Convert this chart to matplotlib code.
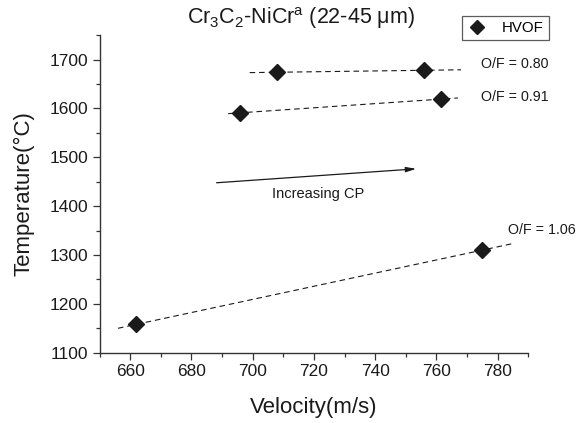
import matplotlib
matplotlib.use("Agg")
import matplotlib.pyplot as plt
import numpy as np
from matplotlib.ticker import MultipleLocator

plt.rcParams["font.family"] = ["Liberation Sans", "DejaVu Sans"]
plt.rcParams["mathtext.fontset"] = "custom"
plt.rcParams["mathtext.rm"] = "Liberation Sans"
plt.rcParams["mathtext.it"] = "Liberation Sans:italic"

# O/F ratio groups: velocity (m/s) and particle temperature (C)
labels = ["O/F = 0.80", "O/F = 0.91", "O/F = 1.06"]
vel_080 = [708, 756]
temp_080 = [1674, 1678]
vel_091 = [696, 761.5]
temp_091 = [1591, 1619]
vel_106 = [662, 775]
temp_106 = [1158, 1310]

# x extent of each dashed trend line
fit_080 = [699, 768]
fit_091 = [692, 767]
fit_106 = [656, 785]

# label anchor positions (data units)
label_x = [774.5, 774.5, 783.5]
label_y = [1690, 1623, 1352]

groups = [(vel_080, temp_080, fit_080),
          (vel_091, temp_091, fit_091),
          (vel_106, temp_106, fit_106)]

ink = "#1a1a1a"

fig = plt.figure(figsize=(5.79, 4.23), dpi=100)
ax = fig.add_axes([0.172, 0.1662, 0.7405, 0.7508])

for i, (vx, ty, ext) in enumerate(groups):
    slope, icpt = np.polyfit(vx, ty, 1)
    ex = np.array(ext, dtype=float)
    ax.plot(ex, slope * ex + icpt, color=ink, lw=0.8, dashes=(5, 3.5), zorder=2)
    ax.plot(vx, ty, "D", color=ink, markersize=8.5, zorder=3,
            label="HVOF" if i == 0 else None)
    ax.text(label_x[i], label_y[i], labels[i], fontsize=10.3, color=ink,
            ha="left", va="center")

# Increasing CP arrow
ax.annotate("", xy=(753.4, 1476.3), xytext=(688.2, 1447.8),
            arrowprops=dict(arrowstyle="-|>,head_length=0.6,head_width=0.15",
                            color=ink, lw=0.9, shrinkA=0, shrinkB=0))
ax.text(721.5, 1425, "Increasing CP", fontsize=10.5, color=ink,
        ha="center", va="center")

ax.set_xlim(650, 790)
ax.set_ylim(1100, 1750)
ax.xaxis.set_major_locator(MultipleLocator(20))
ax.xaxis.set_minor_locator(MultipleLocator(10))
ax.yaxis.set_major_locator(MultipleLocator(100))
ax.yaxis.set_minor_locator(MultipleLocator(50))
ax.set_yticks(np.arange(1100, 1701, 100))
ax.set_xticks(np.arange(660, 781, 20))

for s in ["top", "right"]:
    ax.spines[s].set_visible(False)
for s in ["left", "bottom"]:
    ax.spines[s].set_color("#333333")
    ax.spines[s].set_linewidth(1.0)

ax.tick_params(which="major", direction="out", length=5, width=0.9,
               colors="#333333", labelsize=12.5, labelcolor=ink, pad=3)
ax.tick_params(which="minor", direction="out", length=3, width=0.9,
               colors="#333333")

ax.set_xlabel("Velocity(m/s)", fontsize=16, color=ink, labelpad=13)
ax.set_ylabel("Temperature(\u00b0C)", fontsize=16, color=ink, labelpad=11)

fig.text(301 / 579, 1 - 18 / 423,
         "Cr$_3$C$_2$-NiCr$^\\mathrm{a}$ (22-45 \u03bcm)",
         fontsize=15.5, color=ink, ha="center", va="center")

leg = ax.legend(loc="center", bbox_to_anchor=(505.5 / 579, 1 - 28 / 423),
                bbox_transform=fig.transFigure, fontsize=10.8, frameon=True,
                fancybox=False, edgecolor="#333333", handlelength=1.3,
                handletextpad=1.0, borderpad=0.35, markerscale=0.8)
leg.get_frame().set_linewidth(0.9)

fig.savefig("out.png", dpi=100)
